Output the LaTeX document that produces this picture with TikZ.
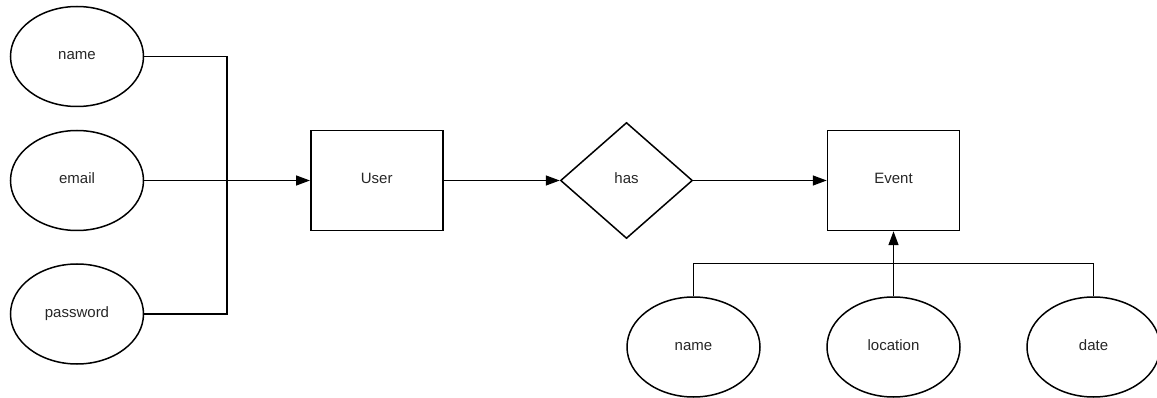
\documentclass[tikz,border=0pt]{standalone}
\usepackage{fontspec}
\setmainfont{Liberation Sans}
\usetikzlibrary{shapes.geometric,arrows.meta}
\begin{document}
\begin{tikzpicture}[x=1pt,y=-1pt,
  every node/.style={font=\fontsize{15}{17}\selectfont, text=black!85},
  lbl/.style={text height=0.72em, text depth=0.08em},
  attr/.style={draw, line width=1.5pt, ellipse, minimum width=133pt, minimum height=100pt, inner sep=0pt, lbl},
  ent/.style={draw, line width=1.5pt, rectangle, minimum width=132pt, minimum height=100pt, inner sep=0pt, lbl},
  rel/.style={draw, line width=1.5pt, diamond, minimum width=132pt, minimum height=116pt, inner sep=0pt, lbl},
  conn/.style={line width=1.5pt},
  arr/.style={conn, -{Triangle[length=14pt,width=10pt]}}]
\useasboundingbox (0,0) rectangle (1157,398);
\node[attr] (uname) at (77,56.5) {name};
\node[attr] (email) at (77,180.5) {email};
\node[attr] (pass) at (77,314) {password};
\node[ent] (user) at (376.75,180.5) {User};
\node[rel] (has) at (626.5,180.5) {has};
\node[ent] (event) at (893.5,180.5) {Event};
\node[attr] (ename) at (693.5,347) {name};
\node[attr] (loc) at (893.5,347) {location};
\node[attr] (date) at (1093.5,347) {date};
\coordinate (vx) at (227,0);
\coordinate (hy) at (0,263.5);
\draw[conn] (uname.east) -- (uname.east -| vx) -- (pass.east -| vx) -- (pass.east);
\draw[arr] (email.east) -- (user.west);
\draw[arr] (user.east) -- (has.west);
\draw[arr] (has.east) -- (event.west);
\draw[conn] (ename.north) -- (ename.north |- hy) -- (date.north |- hy) -- (date.north);
\draw[arr] (loc.north) -- (event.south);
\end{tikzpicture}
\end{document}
